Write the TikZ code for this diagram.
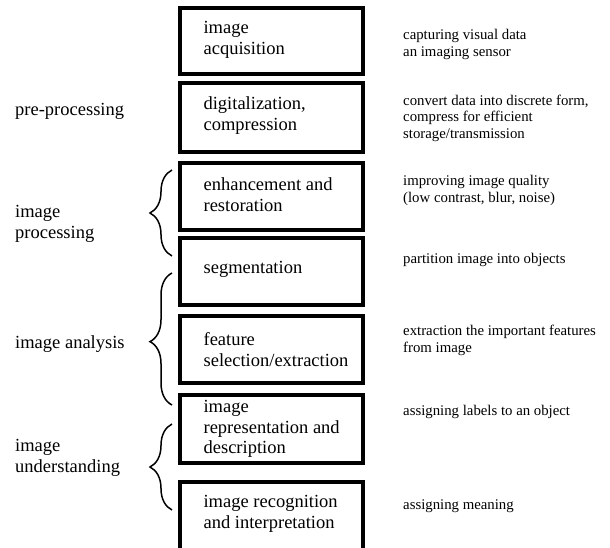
\documentclass[tikz,border=0pt]{standalone}
\usepackage{fontspec}
\setmainfont{Liberation Serif}
\usetikzlibrary{positioning}
\usetikzlibrary{decorations.pathreplacing}

\tikzset{
    stage/.style={draw=black, line width=3.2pt, minimum width=183pt, minimum height=#1, inner sep=0pt},
    stagetext/.style={align=left, inner sep=0pt, font=\fontsize{18.5}{20.8}\selectfont},
    note/.style={anchor=west, align=left, inner sep=0pt, font=\fontsize{14.8}{16.5}\selectfont},
    group/.style={anchor=west, align=left, inner sep=0pt, font=\fontsize{18.5}{20.8}\selectfont},
    grouping/.style={decorate, decoration={brace, amplitude=22pt, aspect=#1}, line width=1.5pt},
    grouping/.default=0.5
}

\begin{document}
\begin{tikzpicture}[x=1pt,y=1pt]
    \useasboundingbox (0,0) rectangle (610,547);
    \clip (0,0) rectangle (610,547);

    % Stages:
    % Boxes first, their text is set 25pt in from the left edge
    \node [stage=66pt] (acq) at (271.5,506) {};
    \node [stage=69pt] (dig) at (271.5,429.5) {};
    \node [stage=67pt] (enh) at (271.5,350.5) {};
    \node [stage=67pt] (seg) at (271.5,275.5) {};
    \node [stage=67pt] (feat) at (271.5,197.5) {};
    \node [stage=68pt] (repr) at (271.5,118) {};
    \node [stage=80pt] (recog) at (271.5,25) {};

    \node [stagetext, right=25pt of acq.west, yshift=1pt] (acqT) {image\\acquisition};
    \node [stagetext, right=25pt of dig.west, yshift=2pt] (digT) {digitalization,\\compression};
    \node [stagetext, right=25pt of enh.west, yshift=2pt] (enhT) {enhancement and\\restoration};
    \node [stagetext, right=25pt of seg.west, yshift=2pt] (segT) {segmentation};
    \node [stagetext, right=25pt of feat.west, yshift=0pt] (featT) {feature\\selection/extraction};
    \node [stagetext, right=25pt of repr.west] (reprT) {image\\representation and\\description};
    \node [stagetext, right=25pt of recog.west, yshift=8pt] (recogT) {image recognition\\and interpretation};

    % Notes on the right
    \node [note] (acqN) at (403,502.5) {capturing visual data\\an imaging sensor};
    \node [note] (digN) at (403,429) {convert data into discrete form,\\compress for efficient\\storage/transmission};
    \node [note] (enhN) at (403,356.5) {improving image quality\\(low contrast, blur, noise)};
    \node [note] (segN) at (403,287) {partition image into objects};
    \node [note] (featN) at (403,206.5) {extraction the important features\\from image};
    \node [note] (reprN) at (403,135) {assigning labels to an object};
    \node [note] (recogN) at (403,41) {assigning meaning};

    % Groups on the left
    \node [group] (pre) at (15,436) {pre-processing};
    \node [group] (proc) at (15,323.5) {image\\processing};
    \node [group] (anal) at (15,203) {image analysis};
    \node [group] (under) at (15,89) {image\\understanding};

    % Braces, drawn bottom to top so they open to the right
    \coordinate (procB) at (172,291);
    \coordinate (procA) at (172,377);
    \coordinate (analB) at (172,142);
    \coordinate (analA) at (172,274);
    \coordinate (underB) at (172,37);
    \coordinate (underA) at (172,123);
    \draw [grouping] (procB) -- (procA);
    \draw [grouping=0.48] (analB) -- (analA);
    \draw [grouping] (underB) -- (underA);
\end{tikzpicture}
\end{document}
